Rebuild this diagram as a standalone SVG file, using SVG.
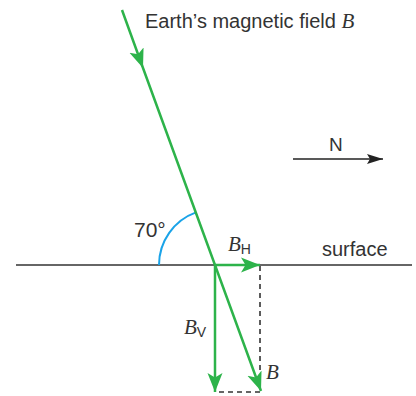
<svg xmlns="http://www.w3.org/2000/svg" width="416" height="396" viewBox="0 0 416 396">
<style>
.g{stroke:#2DB34A;stroke-width:2.5;fill:none}
.d{stroke:#333;stroke-width:1.6;fill:none;stroke-dasharray:5,4}
.t{font-family:"Liberation Sans",Arial,sans-serif;fill:#333}
.b{font-family:"Liberation Serif","Times New Roman",serif;font-style:italic;fill:#333}
</style>
<defs>
<marker id="ag" markerUnits="userSpaceOnUse" markerWidth="24" markerHeight="18" refX="19" refY="7.5" orient="auto" viewBox="0 0 24 15">
<path d="M0,0 L19,7.5 L0,15 L4.5,7.5 Z" fill="#2DB34A"/>
</marker>
<marker id="ak" markerUnits="userSpaceOnUse" markerWidth="18" markerHeight="12" refX="16" refY="6" orient="auto" viewBox="0 0 18 12">
<path d="M0,1 L16,6 L0,11 L3,6 Z" fill="#222"/>
</marker>
</defs>
<g id="surface">
<line x1="16" y1="265" x2="412" y2="265" stroke="#333" stroke-width="1.6"/>
<text class="t" x="322" y="256" font-size="20">surface</text>
</g>
<g id="north">
<line x1="293" y1="159" x2="383" y2="159" stroke="#222" stroke-width="1.6" marker-end="url(#ak)"/>
<text class="t" x="329" y="151" font-size="19">N</text>
</g>
<g id="angle">
<path d="M159,265 A56,56 0 0 1 196,212.4" stroke="#1AA3E8" stroke-width="2" fill="none"/>
<text class="t" x="134" y="237" font-size="21">70°</text>
</g>
<g id="connectors">
<path class="d" d="M260,266 L260,392 L215,392"/>
<path class="g" d="M122,10 L143,68 L261,391" marker-mid="url(#ag)" marker-end="url(#ag)"/>
<line class="g" x1="215" y1="265" x2="260" y2="265" marker-end="url(#ag)"/>
<line class="g" x1="215" y1="265" x2="215" y2="392" marker-end="url(#ag)"/>
</g>
<g id="labels">
<text x="145" y="28" font-size="20"><tspan class="t">Earth’s magnetic field </tspan><tspan class="b" font-size="21">B</tspan></text>
<text x="228" y="251"><tspan class="b" font-size="21">B</tspan><tspan class="t" font-size="14" dy="3">H</tspan></text>
<text x="184" y="334"><tspan class="b" font-size="21">B</tspan><tspan class="t" font-size="14" dy="3">V</tspan></text>
<text class="b" x="266" y="379" font-size="21">B</text>
</g>
</svg>
